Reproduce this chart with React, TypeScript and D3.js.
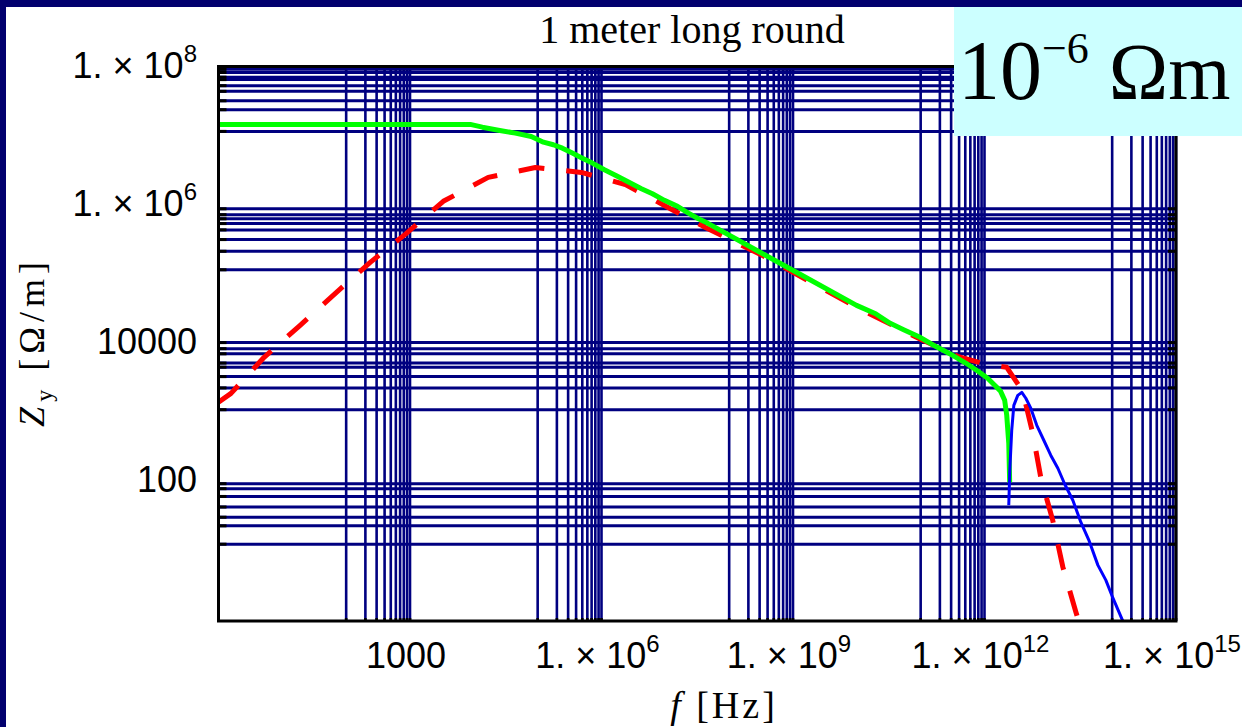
import React from 'react';
import * as d3 from 'd3';

// ---- data ----
const greenF = [1, 8.8e3, 1.36e4, 2.42e4, 4.47e4, 7.94e4, 1.23e5, 1.76e5, 2.44e5, 3.49e5, 5.01e5, 7.19e5, 1.11e6, 1.65e6, 2.64e6, 4.22e6, 6.28e6, 9.68e6, 1.55e7, 2.3e7, 3.3e7, 4.57e7, 3.1e8, 1.31e9, 9.9e9, 1.97e10, 3.27e10, 5.41e10, 9.98e10, 1.71e11, 3.17e11, 5.07e11, 7.82e11, 1.12e12, 1.5e12, 1.79e12, 2.07e12, 2.23e12, 2.4e12, 2.48e12];
const greenZ = [1.59e7, 1.59e7, 1.45e7, 1.31e7, 1.19e7, 1.06e7, 8.79e6, 8.07e6, 7.19e6, 6.1e6, 5.15e6, 4.37e6, 3.5e6, 2.92e6, 2.32e6, 1.86e6, 1.57e6, 1.26e6, 1.03e6, 8.22e5, 6.82e5, 5.89e5, 2.21e5, 1.06e5, 3.78e4, 2.86e4, 2.09e4, 1.68e4, 1.29e4, 9.62e3, 7.13e3, 5.51e3, 4.22e3, 3.31e3, 2.54e3, 2.14e3, 1.59e3, 964, 378, 103];

const blueF = [2.4e12, 2.49e12, 2.67e12, 2.88e12, 3.32e12, 3.84e12, 4.44e12, 5.31e12, 6.59e12, 8.49e12, 1.09e13, 1.41e13, 1.81e13, 2.42e13, 3.23e13, 4.31e13, 5.97e13, 7.96e13, 1.03e14, 1.47e14];
const blueZ = [47.8, 153, 583, 1.34e3, 1.87e3, 2.07e3, 1.7e3, 1.22e3, 689, 418, 254, 164, 96.2, 56.4, 27.1, 14.9, 6.46, 3.91, 2.14, 0.995];

const redF = [1, 1.57, 5.18, 19, 62.5, 238, 841, 3.32e3, 1.68e4, 9.18e4, 4.83e5, 2.37e6, 9.68e6, 3.95e7, 3.1e8, 9.9e9, 9.98e10, 3.8e11, 1.04e12, 2.23e12, 3.44e12, 3.84e12, 5.7e12, 7.6e12, 1.17e13, 1.69e13, 2.7e13, 3.12e13];
const redZ = [1.49e3, 2.0e3, 6.67e3, 1.94e4, 5.28e4, 1.59e5, 4.05e5, 1.22e6, 2.71e6, 3.78e6, 3.2e6, 2.14e6, 1.06e6, 5.28e5, 2.07e5, 3.54e4, 1.22e4, 6.89e3, 5.27e3, 4.78e3, 2.62e3, 2.45e3, 528, 122, 29, 6.04, 1.35, 0.87];

const xGridDecades = [2, 5, 8, 11, 14];
const gridMultipliers = [1, 2, 3, 4, 5, 6, 7, 8, 9, 10];
const yGridValues = [
  1e8, 9.0e7, 7.7e7, 7.1e7, 5.8e7, 4.8e7, 3.5e7, 2.6e7, 1.26e7,
  9.5e5, 7.8e5, 6.8e5, 5.8e5, 4.7e5, 3.4e5, 2.3e5, 1.24e5,
  1.09e4, 8.9e3, 7.5e3, 5.5e3, 4.8e3, 3.5e3, 2.4e3, 1.16e3,
  98, 83, 64, 45, 32, 24, 13,
];

const xTickValues = [1e3, 1e6, 1e9, 1e12, 1e15];
const yTickValues = [100, 1e4, 1e6, 1e8];

const NAVY = '#000080';
const BORDER = '#02006e';

function zip(f: number[], z: number[]) {
  return f.map((v, i) => ({ f: v, z: z[i] }));
}

function TickLabel({ v, x, y, anchor }: { v: number; x: number; y: number; anchor: string }) {
  const exp = Math.round(Math.log10(v));
  if (exp <= 4) {
    return (
      <text x={x} y={y} textAnchor={anchor} fontFamily="Liberation Sans, Arial, sans-serif" fontSize={36} fill="#000">
        {String(v)}
      </text>
    );
  }
  return (
    <text x={x} y={y} textAnchor={anchor} fontFamily="Liberation Sans, Arial, sans-serif" fontSize={36} fill="#000">
      {'1. \u00d7 10'}
      <tspan fontSize={24} dy={-16}>{String(exp)}</tspan>
    </text>
  );
}

export default function App() {
  const left = 218.5, right = 1176, top = 66.5, bottom = 621;
  const x = d3.scaleLog().domain([1, 1e15]).range([left, right]);
  const y = d3.scaleLog().domain([1, 1.1e8]).range([bottom, top]);

  const line = d3.line<{ f: number; z: number }>().x(d => x(d.f)).y(d => y(d.z));

  const xGrid: number[] = [];
  xGridDecades.forEach(k => gridMultipliers.forEach(a => xGrid.push(a * Math.pow(10, k))));

  return (
    <svg width={1242} height={727} style={{ position: 'absolute', left: 0, top: 0 }}>
      <rect x={0} y={0} width={1242} height={727} fill="#fff" />
      <rect x={0} y={0} width={6} height={727} fill={BORDER} />
      <rect x={0} y={0} width={1242} height={7} fill={BORDER} />

      <defs>
        <clipPath id="plotclip">
          <rect x={left} y={top} width={right - left} height={bottom - top} />
        </clipPath>
      </defs>

      {/* grid */}
      <g>
        {xGrid.map((v, i) => (
          <g key={'xg' + i}>
            <line x1={x(v)} x2={x(v)} y1={top} y2={bottom} stroke={NAVY} strokeWidth={2.6} />
            <line x1={x(v)} x2={x(v)} y1={top} y2={top + 4} stroke="#000" strokeWidth={2.6} />
            <line x1={x(v)} x2={x(v)} y1={bottom - 3} y2={bottom} stroke="#000" strokeWidth={2.6} />
          </g>
        ))}
        {yGridValues.map((v, i) => (
          <g key={'yg' + i}>
            <line x1={left} x2={right} y1={y(v)} y2={y(v)} stroke={NAVY} strokeWidth={3} />
            <line x1={left} x2={left + 8} y1={y(v)} y2={y(v)} stroke="#000" strokeWidth={3} />
            <line x1={right - 8} x2={right} y1={y(v)} y2={y(v)} stroke="#000" strokeWidth={3} />
          </g>
        ))}
      </g>

      {/* curves */}
      <g clipPath="url(#plotclip)">
        <path d={line(zip(redF, redZ)) || ''} fill="none" stroke="#ff0000" strokeWidth={5} strokeDasharray="26,22" strokeLinejoin="round" />
        <path d={line(zip(greenF, greenZ)) || ''} fill="none" stroke="#00ff00" strokeWidth={5} strokeLinejoin="round" />
        <path d={line(zip(blueF, blueZ)) || ''} fill="none" stroke="#0000ff" strokeWidth={3} strokeLinejoin="round" />
      </g>

      {/* frame */}
      <rect x={left} y={top} width={right - left} height={bottom - top} fill="none" stroke="#000" strokeWidth={3} />

      {/* tick labels */}
      {xTickValues.map((v, i) => (
        <TickLabel key={'xt' + i} v={v} x={x(v) - 4} y={668} anchor="middle" />
      ))}
      {yTickValues.map((v, i) => (
        <TickLabel key={'yt' + i} v={v} x={197} y={y(v) + 9} anchor="end" />
      ))}

      {/* axis labels */}
      <text x={724} y={718} textAnchor="middle" fontFamily="Liberation Serif, Times New Roman, serif" fontSize={38} letterSpacing={3} fill="#000">
        <tspan fontStyle="italic">f</tspan>
        <tspan> [Hz]</tspan>
      </text>
      <text transform="translate(44,342) rotate(-90)" textAnchor="middle" fontFamily="Liberation Serif, Times New Roman, serif" fontSize={36} letterSpacing={5} fill="#000">
        <tspan fontStyle="italic">Z</tspan>
        <tspan fontSize={24} dy={8}>y</tspan>
        <tspan dy={-8}> [Ω/m]</tspan>
      </text>

      {/* title */}
      <text x={692} y={43} textAnchor="middle" fontFamily="Liberation Serif, Times New Roman, serif" fontSize={40} fill="#000">
        1 meter long round
      </text>

      {/* resistivity box */}
      <rect x={954} y={7} width={288} height={129} fill="#ccffff" />
      <text x={958} y={99} fontFamily="Liberation Serif, Times New Roman, serif" fontSize={84} fill="#000">
        10
        <tspan fontSize={44} dy={-36}>{'\u22126'}</tspan>
        <tspan dy={36} fontSize={80}> Ωm</tspan>
      </text>
    </svg>
  );
}
